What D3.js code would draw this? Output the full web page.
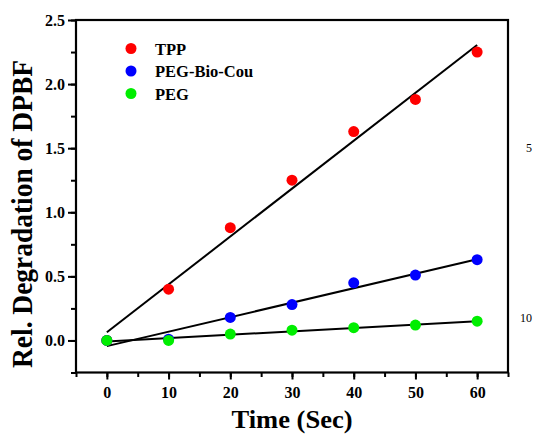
<!DOCTYPE html>
<html><head><meta charset="utf-8">
<script src="https://cdn.jsdelivr.net/npm/d3@7/dist/d3.min.js"></script>
<style>body{margin:0;background:#fff}svg{display:block}</style>
</head><body>
<svg id="c" width="537" height="436"></svg>
<script>
const times = [0, 10, 20, 30, 40, 50, 60];
const tpp = [0, 0.40, 0.88, 1.25, 1.63, 1.88, 2.25];
const pegBioCou = [0, 0.01, 0.18, 0.28, 0.45, 0.51, 0.63];
const peg = [0, 0.00, 0.05, 0.08, 0.10, 0.12, 0.15];
const seriesNames = ["TPP", "PEG-Bio-Cou", "PEG"];
const seriesColors = ["#ff0000", "#0000ff", "#00ee00"];
const xTicks = [0, 10, 20, 30, 40, 50, 60];
const yTicks = [0.0, 0.5, 1.0, 1.5, 2.0, 2.5];
const sideLabels = ["5", "10"];

const svg = d3.select("#c");
const L = 76, R = 508, T = 20, B = 372.5;
const x = d3.scaleLinear().domain([-5, 65]).range([L, R]);
const y = d3.scaleLinear().domain([-0.25, 2.5]).range([B, T]);
const font = "'Liberation Serif','Times New Roman',serif";

const xMinor = d3.range(-5, 66, 5);
const yMinor = d3.range(-0.25, 2.51, 0.25);
const gx = svg.append("g").attr("transform", `translate(0,${B})`)
  .call(d3.axisBottom(x).tickValues(xMinor).tickSize(4.5).tickFormat(""));
const gx2 = svg.append("g").attr("transform", `translate(0,${B})`)
  .call(d3.axisBottom(x).tickValues(xTicks).tickSize(7).tickPadding(7).tickFormat(d3.format("d")));
const gy = svg.append("g").attr("transform", `translate(${L},0)`)
  .call(d3.axisLeft(y).tickValues(yMinor).tickSize(5).tickFormat(""));
const gy2 = svg.append("g").attr("transform", `translate(${L},0)`)
  .call(d3.axisLeft(y).tickValues(yTicks).tickSize(8).tickPadding(3).tickFormat(d3.format(".1f")));
[gx, gx2, gy, gy2].forEach(g => {
  g.select(".domain").remove();
  g.selectAll(".tick line").attr("stroke", "#000").attr("stroke-width", 2);
  g.selectAll(".tick text").attr("font-family", font).attr("font-weight", "bold")
    .attr("font-size", 16).attr("fill", "#000");
});

svg.append("rect").attr("x", L).attr("y", T).attr("width", R - L).attr("height", B - T)
  .attr("fill", "none").attr("stroke", "#000").attr("stroke-width", 2.2);

const allSeries = [tpp, pegBioCou, peg];

// least-squares fit lines
allSeries.forEach(vals => {
  const n = times.length;
  const mx = d3.mean(times), my = d3.mean(vals);
  let sxy = 0, sxx = 0;
  for (let i = 0; i < n; i++) { sxy += (times[i]-mx)*(vals[i]-my); sxx += (times[i]-mx)**2; }
  const b = sxy / sxx, a = my - b * mx;
  const x0 = times[0], x1 = times[n-1];
  svg.append("line").attr("x1", x(x0)).attr("y1", y(a + b*x0))
    .attr("x2", x(x1)).attr("y2", y(a + b*x1))
    .attr("stroke", "#000").attr("stroke-width", 2);
});

allSeries.forEach((vals, si) => {
  svg.append("g").selectAll("circle").data(vals).join("circle")
    .attr("cx", (d, i) => x(times[i])).attr("cy", d => y(d)).attr("r", 5.5)
    .attr("fill", seriesColors[si]);
});

seriesNames.forEach((nm, i) => {
  const ly = 48.5 + i * 22.5;
  svg.append("circle").attr("cx", 131).attr("cy", ly).attr("r", 5.5).attr("fill", seriesColors[i]);
  svg.append("text").attr("x", 155).attr("y", ly + 6).text(nm)
    .attr("font-family", font).attr("font-weight", "bold").attr("font-size", 16.5).attr("fill", "#000");
});

svg.append("text").attr("x", 292).attr("y", 428).attr("text-anchor", "middle")
  .attr("font-family", font).attr("font-weight", "bold").attr("font-size", 25)
  .attr("textLength", 121).attr("lengthAdjust", "spacingAndGlyphs").text("Time (Sec)");
svg.append("text").attr("transform", `translate(32,214) rotate(-90)`)
  .attr("text-anchor", "middle")
  .attr("font-family", font).attr("font-weight", "bold").attr("font-size", 29)
  .attr("textLength", 308).attr("lengthAdjust", "spacingAndGlyphs")
  .text("Rel. Degradation of DPBF");

svg.append("text").attr("x", 532).attr("y", 152).attr("text-anchor", "end")
  .attr("font-family", font).attr("font-size", 12).attr("fill", "#000").text(sideLabels[0]);
svg.append("text").attr("x", 532).attr("y", 322).attr("text-anchor", "end")
  .attr("font-family", font).attr("font-size", 12).attr("fill", "#000").text(sideLabels[1]);
</script>
</body></html>
